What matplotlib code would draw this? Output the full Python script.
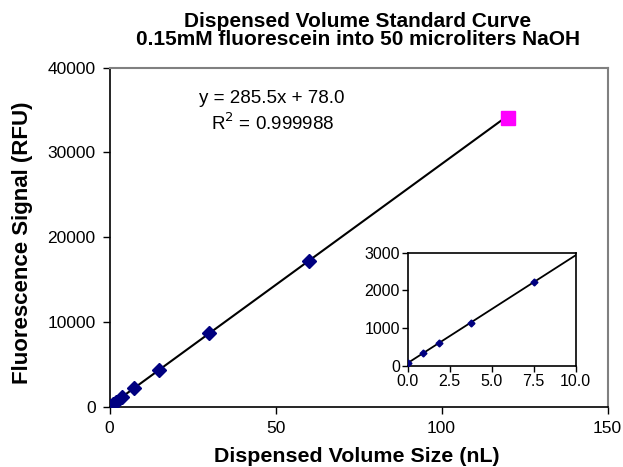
import matplotlib
matplotlib.use("Agg")
import matplotlib.pyplot as plt
import numpy as np

plt.rcParams['font.family'] = ['Liberation Sans', 'DejaVu Sans']

volumes = [0, 0.9375, 1.875, 3.75, 7.5, 15, 30, 60]
signals = [78, 346, 613, 1149, 2219, 4360, 8643, 17208]
outlier_x = [120]
outlier_y = [34080]
slope = 285.5
intercept = 78.0
r2_text = "0.999988"
inset_x = [0, 0.9375, 1.875, 3.75, 7.5]
inset_y = [78, 346, 613, 1149, 2219]
title_lines = ['Dispensed Volume Standard Curve',
               '0.15mM fluorescein into 50 microliters NaOH']

W, H = 623, 467
fig = plt.figure(figsize=(6.23, 4.67), dpi=100)
ax = fig.add_axes([109.5 / W, (H - 406.7) / H, 498 / W, 339 / H])

xl = np.array([0, 120])
ax.plot(xl, slope * xl + intercept, color='black', lw=1.5, zorder=2)
ax.plot(volumes, signals, linestyle='none', marker='D', color='#000080', ms=7.5, zorder=3)
ax.plot(outlier_x, outlier_y, linestyle='none', marker='s', color='#FF00FF', ms=10, zorder=3)

ax.set_xlim(0, 150)
ax.set_ylim(0, 40000)
ax.set_xticks([0, 50, 100, 150])
ax.set_yticks([0, 10000, 20000, 30000, 40000])
ax.tick_params(direction='out', length=5, labelsize=12.5, width=1, pad=5)
for s in ['top', 'right']:
    ax.spines[s].set_color('#808080')
    ax.spines[s].set_linewidth(1.5)
for s in ['left', 'bottom']:
    ax.spines[s].set_linewidth(1.2)
ax.set_xlabel('Dispensed Volume Size (nL)', fontsize=15.4, fontweight='bold', va='baseline')
ax.xaxis.set_label_coords(0.4975, (406.7 - 462.5) / 339)
ax.set_ylabel('Fluorescence Signal (RFU)', fontsize=16, fontweight='bold', va='center')
ax.yaxis.set_label_coords((22.5 - 109.5) / 498, (406.7 - 243) / 339)

fig.text(358 / W, 1 - 26.7 / H, title_lines[0], fontsize=15, fontweight='bold',
         ha='center', va='baseline')
fig.text(358 / W, 1 - 45.2 / H, title_lines[1], fontsize=15, fontweight='bold',
         ha='center', va='baseline')

ax.text(0.3253, 0.8944, f'y = {slope}x + {intercept}', transform=ax.transAxes,
        fontsize=13.5, ha='center', va='baseline')
ax.text(0.3283, 0.8153, r'R$^2$ = ' + r2_text, transform=ax.transAxes,
        fontsize=13.5, ha='center', va='baseline')

ins = fig.add_axes([407.7 / W, (H - 366) / H, 168 / W, 113.3 / H])
xi = np.array([0, 10])
ins.plot(xi, slope * xi + intercept, color='black', lw=1.3, zorder=2)
ins.plot(inset_x, inset_y, linestyle='none', marker='D', color='#000080', ms=3.5, zorder=3)
ins.set_xlim(0, 10)
ins.set_ylim(0, 3000)
ins.set_xticks([0, 2.5, 5, 7.5, 10])
ins.set_xticklabels(['0.0', '2.5', '5.0', '7.5', '10.0'])
ins.set_yticks([0, 1000, 2000, 3000])
ins.tick_params(direction='out', length=4, labelsize=11.5, width=1, pad=1.5)
for s in ins.spines.values():
    s.set_linewidth(1.2)

fig.savefig('out.png', dpi=100)
